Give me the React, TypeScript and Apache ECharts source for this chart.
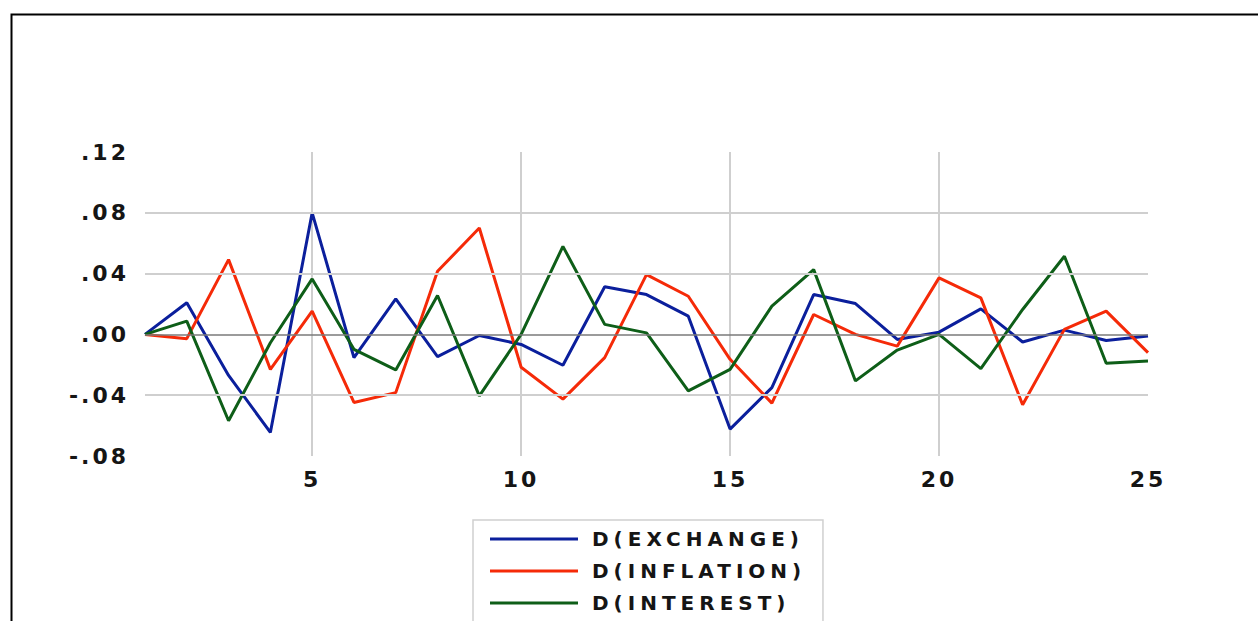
import React, { useEffect, useRef } from "react";
import * as echarts from "echarts";

const periods = Array.from({ length: 25 }, (_, i) => String(i + 1));
const exchange = [0, 0.0208, -0.027, -0.0645, 0.08, -0.0153, 0.0234, -0.0146, -0.0007, -0.0066, -0.0203, 0.0313, 0.0262, 0.012, -0.0623, -0.035, 0.0262, 0.0203, -0.0033, 0.0015, 0.0168, -0.005, 0.0028, -0.004, -0.001];
const inflation = [0, -0.0028, 0.0492, -0.023, 0.0153, -0.0448, -0.0383, 0.0415, 0.07, -0.0216, -0.0426, -0.0153, 0.0393, 0.0251, -0.0164, -0.0452, 0.0131, 0, -0.0077, 0.0372, 0.024, -0.0463, 0.0033, 0.0153, -0.012];
const interest = [0, 0.0087, -0.0568, -0.0055, 0.0365, -0.0098, -0.0234, 0.0256, -0.0404, 0, 0.0579, 0.0066, 0.001, -0.0372, -0.023, 0.0186, 0.0426, -0.0306, -0.0103, 0, -0.0225, 0.0164, 0.0514, -0.019, -0.0175];
const seriesNames = ["D(EXCHANGE)", "D(INFLATION)", "D(INTEREST)"];
const seriesColors = ["#0b1f9c", "#f52a08", "#0e5e18"];
const gridLevels = [0.08, 0.04, -0.04];
const zeroLevel = 0;

const fmt = (v: number) => {
  const s = (Math.round(v * 100) / 100).toFixed(2);
  return s.replace("0.", ".");
};

export default function App() {
  const ref = useRef<HTMLDivElement>(null);
  useEffect(() => {
    if (!ref.current) return;
    const chart = echarts.init(ref.current, null, { renderer: "svg" });
    const font = "'DejaVu Sans', Verdana, sans-serif";
    const lines = [exchange, inflation, interest].map((d, i) => ({
      name: seriesNames[i],
      type: "line",
      data: d,
      symbol: "none",
      z: 3,
      lineStyle: { color: seriesColors[i], width: 3 },
      itemStyle: { color: seriesColors[i] },
    }));
    chart.setOption({
      animation: false,
      backgroundColor: "#fff",
      graphic: [
        {
          type: "rect",
          left: 9,
          top: 12,
          shape: { width: 1400, height: 800 },
          style: { fill: "none", stroke: "#000", lineWidth: 2 },
          silent: true,
          z: -10,
        },
      ],
      grid: { left: 145, right: 110, top: 152, bottom: 165 },
      xAxis: {
        type: "category",
        data: periods,
        boundaryGap: false,
        axisLine: { show: false },
        axisTick: { show: false },
        axisLabel: {
          interval: (i: number) => (i + 1) % 5 === 0,
          margin: 12,
          fontFamily: font,
          fontWeight: "bold",
          fontSize: 22,
          color: "#151515",
        },
        splitLine: {
          show: true,
          interval: (i: number) => (i + 1) % 5 === 0 && i !== 24,
          lineStyle: { color: "#cfcfcf", width: 2 },
        },
      },
      yAxis: {
        type: "value",
        min: -0.08,
        max: 0.12,
        interval: 0.04,
        axisLine: { show: false },
        axisTick: { show: false },
        splitLine: { show: false },
        axisLabel: {
          formatter: fmt,
          margin: 16,
          fontFamily: font,
          fontWeight: "bold",
          fontSize: 22,
          color: "#151515",
        },
      },
      legend: {
        data: seriesNames,
        orient: "vertical",
        left: 473,
        top: 520,
        height: 160,
        padding: [9, 74, 30, 17],
        itemGap: 12,
        itemWidth: 88,
        itemHeight: 3,
        icon: "rect",
        borderColor: "#d0d0d0",
        borderWidth: 1.5,
        backgroundColor: "#fff",
        textStyle: {
          fontFamily: font,
          fontWeight: "bold",
          fontSize: 20,
          color: "#151515",
          padding: [0, 0, 0, 9],
        },
      },
      series: [
        {
          name: "grid-lines",
          type: "line",
          data: [],
          z: 1,
          markLine: {
            silent: true,
            symbol: "none",
            label: { show: false },
            data: [
              ...gridLevels.map((v) => ({ yAxis: v, lineStyle: { color: "#cfcfcf", width: 2, type: "solid" } })),
              { yAxis: zeroLevel, lineStyle: { color: "#7a7a7a", width: 1.5, type: "solid" } },
            ],
          },
        },
        ...lines,
      ],
    });
    return () => chart.dispose();
  }, []);
  return (
    <>
      <style>{`body{margin:0} #chart svg text{letter-spacing:3px} #chart svg text[style*="20px"]{letter-spacing:5px}`}</style>
      <div id="chart" ref={ref} style={{ position: "fixed", left: 0, top: 0, width: 1258, height: 621 }} />
    </>
  );
}
